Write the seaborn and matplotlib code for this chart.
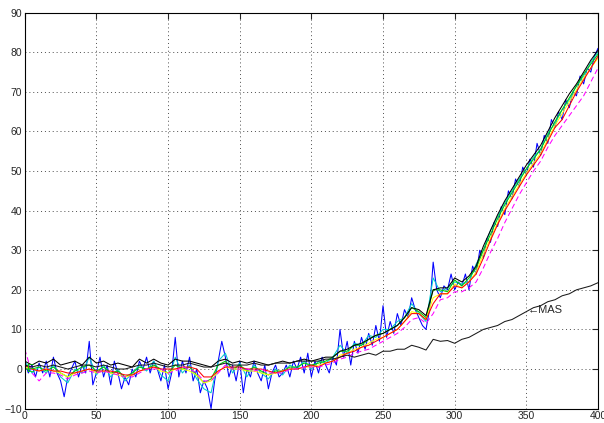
import numpy as np
import pandas as pd
import matplotlib
matplotlib.use("Agg")
import matplotlib.pyplot as plt
import seaborn as sns

# x positions
x5 = np.arange(0, 401, 5)
x25 = np.arange(0, 400.1, 2.5)

# noisiest series, read every 2.5
blue = [2, -1, 1, -2, 1.5, -1, 2, -2, 3, -1, -3, -7, -2, 0, 2, -2, 1, -1, 7, -4,
        -1, 3, -2, 1, -4, 2, -1, -5, -2, -4, 0, -2, 2, 0, 3, -1, 2, 0, -3, 1,
        -5, -1, 8, -2, 2, -1, 3, -3, 0, -6, -3, -5, -10, -3, 2, 7, 3, -2, 1, -3,
        2, -6, 0, -2, 2, -1, -3, 1, -5, -1, 1, -2, -1, 1, -2, 2, 0, 3, -1, 4,
        -2, 2, -1, 3, 1, -1, 3, 1, 10, 3, 7, 1, 7, 4, 8, 5, 9, 6, 11, 7,
        16, 8, 12, 9, 14, 11, 15, 13, 18, 15, 13, 11, 10, 15, 27, 20, 18, 21, 20, 24,
        20, 22, 21, 24, 20, 26, 24, 30, 28, 33, 32, 37, 36, 41, 39, 45, 43, 48, 46, 51,
        49, 53, 51, 57, 54, 59, 57, 63, 61, 65, 63, 68, 66, 70, 69, 74, 72, 76, 75, 79,
        81]

cyan = [2, -1, 0.5, -1, 1, -2, -3.5, 0, -1, 3, -1.5, 1, -2, 0, -3, -1, 1, -0.5, 2, -1.5,
        -3, 3, -1, 1, -2.5, -5, -6, 2, 4, -1, 1.5, -2, 1, -1, -2.5, 0, -1.5, 1, 0, 2,
        0, 2, 1.5, 3, 6, 4, 6.5, 6, 8.5, 8, 10, 10, 12, 13, 16.5, 14, 12, 23, 19.5, 20.5,
        22, 21.5, 22, 26.5, 30, 35, 38.5, 42, 45, 48, 50.5, 53.5, 55.5, 59.5, 62, 65.5, 68, 71.5, 74, 77.5,
        80]

green = [0, 0, 0.5, -0.5, 0.5, -1, -2, -0.5, 0.5, 1, -0.5, 0.5, -1, -0.5, -2, -1, 0.5, 0, 1, 0,
         -1, 1, 0, 0.5, -1.5, -3.5, -2.5, 1, 2, 0, 1, -0.5, 0.5, -0.5, -1.5, -0.5, -0.5, 0.5, 0.5, 1.5,
         1, 1.5, 2, 3, 4.5, 4.5, 6, 6, 7.5, 8.5, 9, 10, 11, 13, 15.5, 14.5, 13, 20, 20, 19.5,
         22.5, 21, 23, 25.5, 30, 34, 38, 41.5, 44.5, 47.5, 50.5, 53, 55.5, 59, 62.5, 65.5, 68.5, 71.5, 74.5, 77,
         79.5]

yellow = [0.5, 0, -0.5, 0, -0.5, -1, -2, -1, -0.5, 0, -1, -0.5, -1, -1.5, -2, -1.5, -0.5, 0, 0.5, -0.5,
          -1, 0, 0, -0.5, -1.5, -3.5, -3, -0.5, 0.5, 0, 0, -0.5, -0.5, -1, -1.5, -1, -0.5, 0, 0, 0.5,
          0.5, 1, 1.5, 2, 3.5, 4, 5, 5.5, 6.5, 7.5, 8, 9, 10, 12, 14.5, 14, 12.5, 18, 19, 19,
          21.5, 20.5, 22, 24.5, 29, 33, 37, 40.5, 43.5, 46.5, 49.5, 52, 54.5, 58, 61.5, 64.5, 67.5, 70.5, 73.5, 76,
          78.5]

red = [1, 0, -0.5, 0, -0.5, -0.5, -1, -1, -0.5, 0, -0.5, -0.5, -0.5, -1, -1.5, -1.5, -0.5, 0, 0.5, 0,
       0, 0, 0.5, 0.5, 0, -2, -2, -0.5, 0.5, 0.5, 0.5, 0, 0, 0, -0.5, -1, -0.5, 0, 0, 0.5,
       1, 0.5, 1.5, 2, 3, 4, 4.5, 5.5, 6, 7, 8, 9, 10, 12, 14, 14, 12.5, 16.5, 19, 19,
       21, 20.5, 22, 24, 28, 32.5, 36.5, 40, 43, 46, 49, 51.5, 54, 57.5, 61, 63, 66.5, 70, 73, 76,
       79]

magenta = [5, -1, -3, -1, -1, -1.5, -2.5, -1.5, -1, -0.5, -1, -0.5, -1, -1.5, -2, -2, -1, 0, 0, 0,
           -1, -0.5, 0.5, 0, -1, -3, -3, -1, 1, 0, 0, 0, -0.5, 0, -1, -1, -1, 0, 0, 0.5,
           0.5, 0.5, 1, 1.5, 2.5, 3, 4, 4.5, 5, 6, 7, 8, 9, 10.5, 12.5, 13, 11.5, 14, 17.5, 18,
           19.5, 19.5, 20.5, 22, 25.5, 29.5, 33, 37, 40.5, 44, 47, 50, 52.5, 56, 59, 61.5, 64, 66.5, 69, 72.5,
           76]

black = [2, 1, 2, 1.5, 2.5, 1, 1.5, 2, 1, 3, 1.5, 2, 1, 1.5, 1, 0.5, 2.5, 1.5, 2.5, 1.5,
         1, 2.5, 2, 2, 1.5, 1, 0.5, 2, 2.5, 1.5, 2, 1.5, 2, 1.5, 1, 1.5, 2, 1.5, 2, 2.5,
         2, 2.5, 3, 3, 4.5, 5, 6, 6.5, 7.5, 8.5, 9, 10, 11, 13, 15.5, 15, 13.5, 20, 20.5, 20.5,
         23, 22, 23.5, 26, 31, 35, 39, 42.5, 45.5, 48.5, 51.5, 54, 56.5, 60, 63.5, 66.5, 69.5, 72, 75, 78,
         80.5]

mas = [1, 0.5, 1, 0.5, 1, 0.5, 0, 0.5, 1, 1, 0.5, 1, 0.5, 0, 0, 0.5, 1, 1, 1.5, 1,
       0.5, 1, 1, 1.5, 1, 0.5, 0.5, 1, 1.5, 1, 1, 1, 1.5, 1, 1, 1.5, 1.5, 1.5, 2, 2,
       2, 2, 2.5, 2.5, 3, 3.5, 3, 3.5, 4, 3.5, 4.5, 4.5, 5, 5, 6, 5.5, 4.8, 7.5, 7, 7.2,
       6.5, 7.5, 8, 9, 10, 10.5, 11, 12, 12.5, 13.5, 14.5, 15.5, 16, 17, 17.5, 18.5, 19, 20, 20.5, 21,
       21.8]

sns.set_style("white")
plt.rcParams['font.family'] = ['Liberation Sans', 'DejaVu Sans']

fig = plt.figure(figsize=(6.04, 4.23), dpi=100)
ax = fig.add_axes([0.041, 0.034, 0.949, 0.936])

series = [
    (x25, blue, (0, 0, 1), '-'),
    (x5, cyan, (0, 0.8, 0.8), '-'),
    (x5, green, (0, 0.8, 0), '-'),
    (x5, yellow, (1, 1, 0), '-'),
    (x5, red, (1, 0, 0), '-'),
    (x5, magenta, (1, 0, 1), (0, (5, 3))),
    (x5, black, (0, 0, 0), '-'),
    (x5, mas, (0.1, 0.1, 0.1), '-'),
]
for xs, ys, col, ls in series:
    sns.lineplot(x=xs, y=ys, ax=ax, color=col, linestyle=ls, linewidth=0.75,
                 estimator=None, legend=False)

ax.text(351, 14.8, '\u2190MAS', fontsize=8, va='center', ha='left')
ax.text(1, 0, 'E', fontsize=8, va='center', ha='left', color=(0, 0.8, 0))

ax.set_xlim(0, 400)
ax.set_ylim(-10, 90)
ax.set_xticks(np.arange(0, 401, 50))
ax.set_yticks(np.arange(-10, 91, 10))
ax.grid(True, linestyle=(0, (1, 3)), color='0.3', linewidth=0.7)
ax.tick_params(direction='in', length=4, labelsize=7.5, top=True, right=True,
               pad=2)
for s in ax.spines.values():
    s.set_color('black')
    s.set_linewidth(0.8)

fig.savefig("out.png", dpi=100)
